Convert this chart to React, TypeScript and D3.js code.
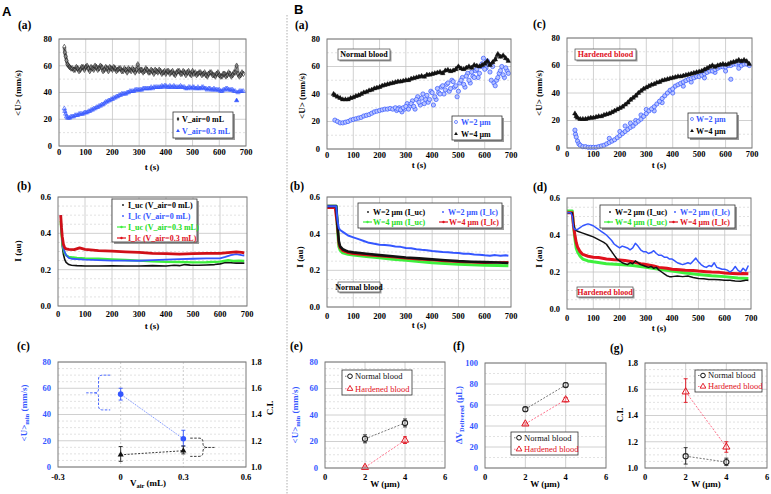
import React from "react";
import * as d3 from "d3";

type Pt = [number, number];
type EP = [number, number, number, number]; // x, y, lo, hi

const SERIF = "'Liberation Serif', 'Times New Roman', serif";
const SANS = "'Liberation Sans', Arial, sans-serif";
const BLUE = "#3456ff";
const RED = "#e0101c";
const GREEN = "#3ef03e";
const BLACK = "#111111";

// ---------------- Tick labels ----------------
const timeTicks = [0, 100, 200, 300, 400, 500, 600, 700];
const timeGrid = [100, 200, 300, 400, 500, 600];
const uTicks = [0, 20, 40, 60, 80];
const uMinor = [10, 30, 50, 70];
const iTicks = [0, 0.2, 0.4, 0.6];
const iMinor = [0.05, 0.1, 0.15, 0.25, 0.3, 0.35, 0.45, 0.5, 0.55];
const vairTicks = [-0.3, 0, 0.3, 0.6];
const ciTicks = [1.0, 1.2, 1.4, 1.6, 1.8];
const wTicks = [0, 2, 4, 6];
const dvTicks = [0, 20, 40, 60, 80, 100];

// ---------------- A(a) ----------------
const aaV0: Pt[] = [[20,74],[22,70],[25,67],[28,64],[32,61],[36,60],[40,59],[45,58],[50,58],[55,57],[60,57],[65,59],[70,58],[75,56],[80,57],[85,59],[90,59],[95,57],[100,59],[105,60],[110,58],[115,56],[120,59],[125,58],[130,57],[135,60],[140,59],[145,57],[150,58],[155,60],[160,59],[165,56],[170,57],[175,59],[180,58],[185,56],[190,59],[195,58],[200,57],[205,59],[210,58],[215,56],[220,57],[225,58],[230,58],[235,56],[240,56],[245,58],[250,57],[255,55],[260,58],[265,57],[270,56],[275,58],[280,57],[285,55],[290,57],[295,61],[300,56],[305,57],[310,57],[315,55],[320,56],[325,58],[330,57],[335,55],[340,55],[345,57],[350,56],[355,54],[360,57],[365,56],[370,55],[375,57],[380,56],[385,54],[390,55],[395,56],[400,54],[405,56],[410,56],[415,54],[420,55],[425,56],[430,54],[435,53],[440,55],[445,56],[450,56],[455,54],[460,54],[465,56],[470,55],[475,53],[480,55],[485,56],[490,54],[495,53],[500,56],[505,54],[510,55],[515,53],[520,54],[525,55],[530,55],[535,53],[540,54],[545,55],[550,53],[555,52],[560,54],[565,55],[570,55],[575,53],[580,53],[585,52],[590,54],[595,55],[600,53],[605,52],[610,52],[615,54],[620,54],[625,52],[630,53],[635,55],[640,54],[645,52],[650,53],[655,55],[660,55],[665,60],[670,54],[675,52],[680,53],[685,55],[690,54]];
const aaV03: Pt[] = [[20,28],[22,26],[25,24],[28,22],[32,21],[36,21],[40,21],[45,22],[50,22],[55,22],[60,23],[65,23],[70,23],[75,24],[80,24],[85,24],[90,24],[95,25],[100,25],[105,25],[110,26],[115,26],[120,27],[125,27],[130,28],[135,28],[140,29],[145,29],[150,30],[155,30],[160,31],[165,31],[170,32],[175,33],[180,33],[185,34],[190,34],[195,35],[200,35],[205,36],[210,36],[215,37],[220,37],[225,38],[230,38],[235,39],[240,39],[245,39],[250,39],[255,40],[260,40],[265,41],[270,41],[275,41],[280,41],[285,42],[290,42],[295,42],[300,42],[305,42],[310,42],[315,43],[320,43],[325,43],[330,43],[335,43],[340,43],[345,44],[350,43],[355,44],[360,44],[365,44],[370,44],[375,44],[380,44],[385,45],[390,44],[395,45],[400,45],[405,44],[410,44],[415,45],[420,44],[425,44],[430,45],[435,44],[440,44],[445,44],[450,44],[455,45],[460,44],[465,44],[470,44],[475,43],[480,43],[485,44],[490,44],[495,43],[500,44],[505,44],[510,43],[515,43],[520,44],[525,43],[530,43],[535,44],[540,44],[545,43],[550,43],[555,42],[560,43],[565,43],[570,42],[575,42],[580,43],[585,42],[590,42],[595,42],[600,42],[605,41],[610,41],[615,42],[620,42],[625,43],[630,43],[635,42],[640,42],[645,42],[650,42],[655,41],[660,41],[670,40],[675,41],[680,41],[685,41],[690,41]];
const aaV03Outlier: Pt[] = [[665, 34]];

// ---------------- A(b) ----------------
const abUc0: Pt[] = [[10,0.48],[13,0.4],[16,0.33],[20,0.285],[25,0.255],[30,0.24],[40,0.228],[50,0.224],[70,0.222],[100,0.22],[150,0.22],[200,0.221],[250,0.22],[300,0.22],[350,0.222],[400,0.22],[430,0.224],[450,0.222],[470,0.228],[490,0.225],[520,0.224],[550,0.226],[580,0.228],[600,0.232],[620,0.24],[640,0.238],[660,0.236],[690,0.236]];
const abLc0: Pt[] = [[10,0.5],[13,0.42],[16,0.36],[20,0.32],[25,0.295],[30,0.28],[40,0.265],[50,0.26],[70,0.258],[100,0.255],[150,0.252],[200,0.25],[250,0.25],[300,0.249],[350,0.252],[400,0.255],[450,0.258],[500,0.26],[550,0.262],[600,0.262],[620,0.27],[640,0.28],[660,0.285],[680,0.28],[690,0.278]];
const abUc03: Pt[] = [[10,0.47],[13,0.4],[16,0.35],[20,0.315],[25,0.29],[30,0.28],[40,0.27],[50,0.268],[70,0.265],[100,0.262],[150,0.26],[200,0.256],[250,0.253],[300,0.25],[350,0.246],[400,0.243],[450,0.242],[500,0.24],[550,0.241],[600,0.244],[630,0.252],[650,0.248],[670,0.25],[690,0.248]];
const abLc03: Pt[] = [[10,0.5],[13,0.43],[16,0.38],[20,0.34],[25,0.32],[30,0.315],[40,0.312],[60,0.31],[80,0.32],[100,0.312],[150,0.305],[200,0.302],[250,0.298],[300,0.295],[350,0.29],[400,0.288],[450,0.285],[500,0.288],[550,0.29],[600,0.29],[640,0.295],[660,0.298],[680,0.295],[690,0.292]];

// ---------------- A(c) ----------------
const acU: EP[] = [[0, 55.5, 51, 60], [0.3, 21.5, 16, 28]];
const acCI: EP[] = [[0, 1.093, 1.043, 1.156], [0.3, 1.124, 1.1, 1.16]];

// ---------------- B(a) normal blood ----------------
const baW4: Pt[] = [[25,40],[30,39],[40,38],[50,37],[60,36],[70,36],[80,36],[90,37],[100,37.5],[110,38.5],[120,39],[130,40],[140,41],[150,41.5],[160,42.5],[170,43],[180,44],[190,44.5],[200,45],[210,46],[220,46.5],[230,47],[240,47.5],[250,48],[260,48.5],[270,49],[280,49],[290,49.5],[300,50],[310,50],[320,51],[330,51.5],[340,52],[350,52.5],[360,53],[370,52.5],[380,54],[390,54],[400,54.5],[410,55],[420,55.5],[430,56],[440,55],[450,57],[460,57.5],[470,56.5],[480,57],[490,58],[500,60],[510,58.5],[520,58],[530,59],[540,60],[550,59],[560,61],[570,60.5],[580,60],[590,61],[600,62],[610,64],[620,61],[630,63],[640,65],[650,69],[660,67],[670,68],[680,66],[690,64]];
const baW2: Pt[] = [[30,21],[40,20],[50,19],[60,19],[70,19.5],[80,20],[90,21],[100,21.5],[110,22],[120,22.5],[130,23],[140,24],[150,24.5],[160,25],[170,26],[180,27],[190,27.5],[200,28],[210,28.5],[220,29],[230,29],[240,29.5],[250,29],[260,30],[270,29],[280,28.5],[290,30],[300,31],[310,29],[320,33],[330,31],[340,36],[350,34],[360,37],[370,33],[380,39],[390,36],[400,41],[405,32],[410,38],[420,44],[430,40],[440,46],[450,43],[460,48],[470,44],[480,49],[490,46],[500,42],[510,50],[520,47],[530,53],[540,50],[550,56],[560,52],[570,58],[580,55],[590,62],[600,58],[610,64],[620,56],[630,60],[640,46],[650,52],[660,57],[670,54],[680,59],[690,55]];
const baW2Early: Pt[] = [[30,21],[40,20],[50,19],[60,19],[70,19.5],[80,20],[90,21],[100,21.5],[110,22],[120,22.5],[130,23],[140,24],[150,24.5],[160,25],[170,26],[180,27],[190,27.5],[200,28],[210,28.5],[220,29],[230,29],[240,29.5],[250,29.5],[260,30],[270,29.5],[280,29.5],[290,30],[300,31]];
const baW2Spread: Pt[] = [[265,28],[275,30],[285,27],[295,29],[305,33],[315,31],[325,35],[335,29],[345,38],[355,32],[365,40],[375,36],[385,34],[395,42],[415,36],[425,41],[435,45],[445,40],[455,47],[465,42],[475,50],[485,45],[495,38],[505,48],[515,52],[525,45],[535,55],[545,48],[555,53],[565,57],[575,52],[585,60],[595,66],[605,59],[615,62],[625,50],[635,48],[645,50],[655,55],[665,60],[675,52],[685,57]];

// ---------------- B(c) hardened blood ----------------
const bcW4: Pt[] = [[30,25],[35,23],[40,22],[50,21],[60,21],[70,21],[80,21.5],[90,22],[100,22],[110,22.5],[120,23],[130,23],[140,24],[150,24.5],[160,25],[170,26],[180,27],[190,28],[200,29],[210,30],[220,31.5],[230,33],[240,35],[250,36.5],[260,38],[270,40],[280,41.5],[290,43],[300,44],[310,45],[320,46],[330,46.5],[340,47.5],[350,48],[360,49],[370,49.5],[380,50],[390,50.5],[400,51],[410,51.5],[420,52],[430,52],[440,52.5],[450,53],[460,53.5],[470,54],[480,54.5],[490,55],[500,55.5],[510,56],[520,57],[530,58],[540,59],[550,60],[560,59],[570,60],[580,60.5],[590,61],[600,60.5],[610,61],[620,62],[630,62.5],[640,63],[650,64],[660,63],[670,64],[680,63],[690,61]];
const bcW2: Pt[] = [[30,13],[35,8],[40,5],[45,3],[50,2],[60,1],[70,1],[80,0.5],[90,0.5],[100,0.5],[110,0.5],[120,1],[130,1.5],[140,2],[150,3],[160,4],[170,5],[180,6],[190,7.5],[200,9],[210,10.5],[220,12],[230,13.5],[240,15],[250,16],[260,18],[270,19.5],[280,21],[290,23],[300,25],[310,27],[320,28.5],[330,30],[340,32],[350,34],[360,36],[370,38],[380,40],[390,42],[400,43],[410,45],[420,46],[430,47],[440,48],[450,49],[460,50],[470,50.5],[480,51],[490,52],[500,52],[510,53],[520,54],[530,55],[540,56],[550,56],[560,57],[570,58],[580,59],[590,59],[600,59],[610,60],[620,60],[630,61],[640,61],[650,62],[660,60],[670,61],[680,61],[690,60]];
const bcW2Spread: Pt[] = [[32,10],[160,7],[200,12],[220,16],[240,18],[260,20],[280,24],[300,28],[330,27],[360,33],[400,40],[440,45],[470,48],[520,51],[560,55],[600,56],[620,50],[650,58]];

// ---------------- B(b) normal blood ----------------
const bbUcW2: Pt[] = [[0,0.55],[35,0.55],[40,0.45],[45,0.36],[50,0.33],[60,0.315],[70,0.308],[80,0.303],[100,0.298],[150,0.29],[200,0.283],[250,0.277],[300,0.27],[350,0.265],[400,0.26],[450,0.255],[500,0.25],[550,0.247],[600,0.245],[650,0.243],[690,0.24]];
const bbLcW2: Pt[] = [[0,0.55],[35,0.55],[40,0.47],[45,0.43],[50,0.42],[60,0.41],[70,0.4],[80,0.39],[100,0.38],[120,0.37],[140,0.36],[160,0.35],[180,0.345],[200,0.34],[220,0.338],[240,0.335],[260,0.33],[280,0.328],[300,0.322],[320,0.32],[340,0.315],[360,0.312],[380,0.31],[400,0.305],[420,0.303],[440,0.3],[460,0.298],[480,0.296],[500,0.295],[520,0.29],[540,0.29],[560,0.287],[580,0.285],[600,0.282],[620,0.28],[640,0.283],[660,0.279],[680,0.282],[690,0.28]];
const bbUcW4: Pt[] = [[0,0.55],[35,0.55],[40,0.42],[45,0.33],[50,0.31],[60,0.295],[80,0.287],[100,0.283],[150,0.275],[200,0.268],[250,0.26],[300,0.255],[350,0.248],[400,0.242],[450,0.237],[500,0.233],[550,0.23],[600,0.228],[650,0.226],[690,0.225]];
const bbLcW4: Pt[] = [[0,0.54],[30,0.54],[38,0.45],[45,0.34],[50,0.32],[60,0.305],[80,0.295],[100,0.29],[150,0.283],[200,0.278],[250,0.272],[300,0.265],[350,0.26],[400,0.255],[450,0.25],[500,0.246],[550,0.243],[600,0.24],[650,0.243],[690,0.245]];

// ---------------- B(d) hardened blood ----------------
const bdUcW2: Pt[] = [[0,0.52],[20,0.52],[25,0.46],[30,0.43],[40,0.42],[60,0.41],[80,0.4],[100,0.39],[120,0.375],[140,0.36],[150,0.35],[160,0.33],[170,0.31],[180,0.29],[190,0.27],[200,0.26],[210,0.25],[220,0.245],[230,0.24],[240,0.25],[250,0.245],[260,0.26],[270,0.25],[280,0.24],[290,0.235],[300,0.23],[310,0.225],[320,0.23],[330,0.22],[340,0.225],[350,0.21],[360,0.2],[370,0.19],[380,0.18],[390,0.175],[400,0.175],[420,0.178],[440,0.175],[460,0.178],[480,0.17],[500,0.165],[520,0.163],[540,0.16],[560,0.16],[580,0.158],[600,0.155],[620,0.155],[640,0.152],[660,0.15],[680,0.155],[690,0.155]];
const bdLcW2: Pt[] = [[0,0.52],[15,0.52],[20,0.5],[25,0.44],[30,0.43],[40,0.43],[50,0.44],[60,0.45],[70,0.455],[80,0.46],[90,0.455],[100,0.45],[110,0.44],[120,0.43],[130,0.42],[140,0.41],[150,0.4],[160,0.385],[170,0.37],[180,0.35],[190,0.34],[200,0.33],[210,0.34],[220,0.335],[230,0.33],[240,0.32],[250,0.33],[260,0.355],[270,0.34],[280,0.32],[290,0.31],[300,0.31],[310,0.3],[320,0.305],[330,0.315],[340,0.3],[350,0.29],[360,0.29],[370,0.28],[380,0.28],[390,0.27],[400,0.27],[410,0.26],[420,0.25],[430,0.245],[440,0.24],[450,0.245],[460,0.25],[470,0.245],[480,0.26],[490,0.275],[500,0.255],[510,0.24],[520,0.23],[530,0.225],[540,0.235],[550,0.23],[560,0.25],[570,0.225],[580,0.22],[590,0.215],[600,0.215],[610,0.21],[620,0.2],[630,0.21],[640,0.23],[650,0.21],[660,0.2],[670,0.22],[680,0.205],[690,0.235]];
const bdUcW4: Pt[] = [[0,0.53],[20,0.53],[25,0.45],[30,0.38],[35,0.33],[40,0.31],[50,0.285],[60,0.27],[80,0.26],[100,0.255],[150,0.245],[200,0.24],[250,0.235],[300,0.225],[350,0.215],[400,0.205],[450,0.195],[500,0.187],[550,0.18],[600,0.175],[650,0.168],[690,0.165]];
const bdLcW4: Pt[] = [[0,0.52],[20,0.52],[25,0.45],[30,0.4],[35,0.36],[40,0.335],[50,0.31],[60,0.295],[80,0.285],[100,0.28],[120,0.278],[150,0.27],[180,0.266],[200,0.265],[220,0.262],[250,0.255],[280,0.245],[300,0.24],[330,0.232],[350,0.225],[380,0.22],[400,0.215],[430,0.212],[450,0.21],[480,0.208],[500,0.205],[530,0.202],[550,0.2],[580,0.198],[600,0.195],[630,0.192],[650,0.19],[670,0.192],[690,0.19]];

// ---------------- B(e), B(f), B(g) ----------------
const beNormal: EP[] = [[2, 22, 19, 25], [4, 34, 31, 37]];
const beHard: EP[] = [[2, 0.5, 0, 1.5], [4, 21, 18.5, 23.5]];
const bfNormal: EP[] = [[2, 56, 54, 58], [4, 79, 77, 81]];
const bfHard: EP[] = [[2, 42, 41, 43], [4, 65, 63, 67]];
const bgNormal: EP[] = [[2, 1.09, 1.03, 1.155], [4, 1.045, 1.02, 1.075]];
const bgHard: EP[] = [[2, 1.58, 1.5, 1.68], [4, 1.16, 1.12, 1.2]];

// ---------------- helpers ----------------
type Box = { l: number; r: number; t: number; b: number };
type Sc = d3.ScaleLinear<number, number>;

function Frame(props: {
  box: Box; xd: [number, number]; yd: [number, number];
  xTicks: number[]; yTicks: number[]; yMinor?: number[]; xGrid?: number[]; xGridDash?: boolean;
  xFmt?: (v: number) => string; yFmt?: (v: number) => string; yColor?: string; xLabDy?: number;
  children?: (x: Sc, y: Sc) => React.ReactNode;
}) {
  const { box, xd, yd, xTicks, yTicks, yMinor = [], xGrid = [], xGridDash = false,
    xFmt = (v) => String(v), yFmt = (v) => String(v), yColor = "#000", xLabDy = 11, children } = props;
  const x = d3.scaleLinear().domain(xd).range([box.l, box.r]);
  const y = d3.scaleLinear().domain(yd).range([box.b, box.t]);
  return (
    <g>
      <rect x={box.l} y={box.t} width={box.r - box.l} height={box.b - box.t} fill="#fff" />
      {yMinor.map((v) => (
        <line key={"m" + v} x1={box.l} x2={box.r} y1={y(v)} y2={y(v)} stroke="#cfcfcf" strokeWidth={0.6} strokeDasharray="2,2" />
      ))}
      {yTicks.map((v) => (
        <line key={"g" + v} x1={box.l} x2={box.r} y1={y(v)} y2={y(v)} stroke="#c4c4c4" strokeWidth={0.8} />
      ))}
      {xGrid.map((v) => (
        <line key={"x" + v} x1={x(v)} x2={x(v)} y1={box.t} y2={box.b} stroke="#c4c4c4" strokeWidth={0.8} strokeDasharray={xGridDash ? "2,2" : undefined} />
      ))}
      {children ? children(x, y) : null}
      <rect x={box.l} y={box.t} width={box.r - box.l} height={box.b - box.t} fill="none" stroke="#7a7a7a" strokeWidth={1} />
      {xTicks.map((v) => (
        <text key={"tx" + v} x={x(v)} y={box.b + xLabDy} textAnchor="middle" fontSize={8.5} fontWeight="bold">{xFmt(v)}</text>
      ))}
      {yTicks.map((v) => (
        <text key={"ty" + v} x={box.l - 7} y={y(v)} dy="0.35em" textAnchor="end" fontSize={8.5} fontWeight="bold" fill={yColor}>{yFmt(v)}</text>
      ))}
    </g>
  );
}

function Markers(props: { data: Pt[]; x: Sc; y: Sc; type: d3.SymbolType; size: number; stroke: string; fill: string; sw?: number }) {
  const { data, x, y, type, size, stroke, fill, sw = 0.7 } = props;
  const d = d3.symbol().type(type).size(size)() || "";
  return (
    <g>
      {data.map((p, i) => (
        <path key={i} d={d} transform={`translate(${x(p[0])},${y(p[1])})`} fill={fill} stroke={stroke} strokeWidth={sw} />
      ))}
    </g>
  );
}

function Line(props: { data: Pt[]; x: Sc; y: Sc; color: string; w: number; opacity?: number; dash?: string; curve?: d3.CurveFactory }) {
  const { data, x, y, color, w, opacity = 1, dash, curve = d3.curveLinear } = props;
  const g = d3.line<Pt>().x((p) => x(p[0])).y((p) => y(p[1])).curve(curve);
  return <path d={g(data) || ""} fill="none" stroke={color} strokeWidth={w} opacity={opacity} strokeDasharray={dash} strokeLinejoin="round" />;
}

function ErrBars(props: { data: EP[]; x: Sc; y: Sc; color: string }) {
  const { data, x, y, color } = props;
  return (
    <g>
      {data.map((p, i) => (
        <g key={i} stroke={color} strokeWidth={0.9}>
          <line x1={x(p[0])} x2={x(p[0])} y1={y(p[2])} y2={y(p[3])} />
          <line x1={x(p[0]) - 2} x2={x(p[0]) + 2} y1={y(p[2])} y2={y(p[2])} />
          <line x1={x(p[0]) - 2} x2={x(p[0]) + 2} y1={y(p[3])} y2={y(p[3])} />
        </g>
      ))}
    </g>
  );
}

function LegendBox(props: { x: number; y: number; w: number; h: number }) {
  const { x, y, w, h } = props;
  return (
    <g>
      <rect x={x + 2} y={y + 2} width={w} height={h} fill="#9a9a9a" />
      <rect x={x} y={y} width={w} height={h} fill="#fff" stroke="#333" strokeWidth={0.8} />
    </g>
  );
}

function TagBox(props: { x: number; y: number; w: number; h: number; text: string; color: string }) {
  const { x, y, w, h, text, color } = props;
  return (
    <g>
      <rect x={x + 1.5} y={y + 1.5} width={w} height={h} fill="#a0a0a0" />
      <rect x={x} y={y} width={w} height={h} fill="#fff" stroke="#444" strokeWidth={0.7} />
      <text x={x + w / 2} y={y + h / 2} dy="0.35em" textAnchor="middle" fontSize={8} fontWeight="bold" fill={color}>{text}</text>
    </g>
  );
}

function VLabel(props: { x: number; y: number; color?: string; children: React.ReactNode; size?: number }) {
  const { x, y, color = "#000", children, size = 9 } = props;
  return (
    <text transform={`translate(${x},${y}) rotate(-90)`} textAnchor="middle" fontSize={size} fontWeight="bold" fill={color}>{children}</text>
  );
}

function PanelTag(props: { x: number; y: number; t: string }) {
  return <text x={props.x} y={props.y} fontSize={11.5} fontWeight="bold">{props.t}</text>;
}

const triSym = d3.symbolTriangle;
const circSym = d3.symbolCircle;
const diaSym = d3.symbolDiamond;

function symPath(type: d3.SymbolType, size: number) {
  return d3.symbol().type(type).size(size)() || "";
}

function Brace(props: { x: Sc; y: Sc; xa: number; xb: number; xt: number; yTop: number; yMid: number; yBot: number; color: string }) {
  const { x, y, xa, xb, xt, yTop, yMid, yBot, color } = props;
  const A = x(xa), B = x(xb), T = x(xt), yt = y(yTop), ym = y(yMid), yb = y(yBot);
  const s = B > A ? 1 : -1;
  const r = 4;
  const d = `M${A},${yt} L${B - s * r},${yt} Q${B},${yt} ${B},${yt + r} L${B},${ym - r} Q${B},${ym} ${B + s * r},${ym} L${T},${ym} M${B + s * r},${ym} Q${B},${ym} ${B},${ym + r} L${B},${yb - r} Q${B},${yb} ${B - s * r},${yb} L${A},${yb}`;
  return <path d={d} fill="none" stroke={color} strokeWidth={0.9} strokeDasharray="2.5,1.5" />;
}

function SmallLegend(props: { x: number; y: number; w: number; h: number; rows: { text: string; color: string; kind: "circ" | "tri" }[]; lineColor: string[] }) {
  const { x, y, w, h, rows, lineColor } = props;
  return (
    <g>
      <rect x={x} y={y} width={w} height={h} fill="#fff" stroke="#333" strokeWidth={0.8} />
      {rows.map((r, i) => {
        const cy = y + h * (i + 0.5) / rows.length;
        return (
          <g key={i}>
            <line x1={x + 3} x2={x + 11} y1={cy} y2={cy} stroke={lineColor[i]} strokeWidth={0.8} strokeDasharray="1.5,1" />
            {r.kind === "circ" ? (
              <circle cx={x + 8} cy={cy} r={2.3} fill="#fff" stroke={r.color} strokeWidth={1} />
            ) : (
              <path d={symPath(triSym, 14)} transform={`translate(${x + 8},${cy})`} fill="#fff" stroke={r.color} strokeWidth={0.9} />
            )}
            <text x={x + 13} y={cy} dy="0.35em" fontSize={8.5} fill={r.color}>{r.text}</text>
          </g>
        );
      })}
    </g>
  );
}

function Pair(props: { x: Sc; y: Sc; normal: EP[]; hard: EP[] }) {
  const { x, y, normal, hard } = props;
  const nPts: Pt[] = normal.map((p) => [p[0], p[1]]);
  const hPts: Pt[] = hard.map((p) => [p[0], p[1]]);
  return (
    <g>
      <Line data={nPts} x={x} y={y} color="#555" w={0.8} dash="2,1.5" />
      <Line data={hPts} x={x} y={y} color="#ff5070" w={0.8} dash="2,1.5" />
      <ErrBars data={normal} x={x} y={y} color="#222" />
      <ErrBars data={hard} x={x} y={y} color={RED} />
      {nPts.map((p, i) => <circle key={"n" + i} cx={x(p[0])} cy={y(p[1])} r={2.6} fill="#fff" fillOpacity={0.4} stroke="#222" strokeWidth={1.1} />)}
      {hPts.map((p, i) => <path key={"h" + i} d={symPath(triSym, 22)} transform={`translate(${x(p[0])},${y(p[1])})`} fill="#fff" fillOpacity={0.4} stroke={RED} strokeWidth={1} />)}
    </g>
  );
}

const fmt1 = (v: number) => v.toFixed(1);
const fmtV = (v: number) => (v === 0 ? "0" : String(v));

export default function App() {
  const bA = { l: 59, r: 246, t: 39, b: 146 };
  const bB = { l: 58, r: 247, t: 197, b: 306 };
  const bC = { l: 58, r: 246, t: 362, b: 467 };
  const bBa = { l: 327, r: 511, t: 39, b: 149 };
  const bBc = { l: 567, r: 752, t: 38, b: 148 };
  const bBb = { l: 327, r: 511, t: 197, b: 307 };
  const bBd = { l: 567, r: 751, t: 198, b: 309 };
  const bBe = { l: 325, r: 445, t: 362, b: 468 };
  const bBf = { l: 485, r: 606, t: 363, b: 468 };
  const bBg = { l: 645, r: 767, t: 363, b: 468 };

  return (
    <svg width={771} height={494} style={{ position: "absolute", left: 0, top: 0, background: "#fff" }} fontFamily={SERIF}>
      <rect width={771} height={494} fill="#fff" />
      <text x={2} y={16} fontFamily={SANS} fontWeight="bold" fontSize={13}>A</text>
      <text x={294} y={14} fontFamily={SANS} fontWeight="bold" fontSize={13}>B</text>
      <line x1={287} x2={287} y1={15} y2={494} stroke="#9a9a9a" strokeWidth={0.8} strokeDasharray="1.5,1.5" />

      <PanelTag x={18} y={29} t="(a)" />
      <PanelTag x={17} y={190} t="(b)" />
      <PanelTag x={17} y={350} t="(c)" />
      <PanelTag x={295} y={29} t="(a)" />
      <PanelTag x={533} y={28} t="(c)" />
      <PanelTag x={290} y={190} t="(b)" />
      <PanelTag x={533} y={191} t="(d)" />
      <PanelTag x={290} y={350} t="(e)" />
      <PanelTag x={453} y={350} t="(f)" />
      <PanelTag x={610} y={352} t="(g)" />

      {/* ---------- A(a) ---------- */}
      <Frame box={bA} xd={[0, 700]} yd={[0, 80]} xTicks={timeTicks} yTicks={uTicks} yMinor={uMinor} xGrid={timeGrid} xLabDy={9}>
        {(x, y) => (
          <g>
            <Line data={aaV0} x={x} y={y} color="#333" w={3.5} opacity={0.55} curve={d3.curveMonotoneX} />
            <Markers data={aaV0} x={x} y={y} type={diaSym} size={9} stroke="#222" fill="none" sw={0.6} />
            <Line data={aaV03} x={x} y={y} color={BLUE} w={2.5} opacity={0.6} curve={d3.curveMonotoneX} />
            <Markers data={aaV03} x={x} y={y} type={triSym} size={8} stroke={BLUE} fill="none" sw={0.6} />
            <Markers data={aaV03Outlier} x={x} y={y} type={triSym} size={8} stroke={BLUE} fill={BLUE} sw={0.6} />
            <LegendBox x={173} y={112} w={60} h={26} />
            <path d={symPath(diaSym, 6)} transform="translate(178,119)" fill="#333" />
            <text x={182} y={119} dy="0.35em" fontSize={8} fontWeight="bold">V_air=0 mL</text>
            <path d={symPath(triSym, 6)} transform="translate(178,131)" fill={BLUE} />
            <text x={182} y={131} dy="0.35em" fontSize={8} fontWeight="bold" fill={BLUE}>V_air=0.3 mL</text>
          </g>
        )}
      </Frame>
      <VLabel x={21} y={93}>{"<U> (mm/s)"}</VLabel>
      <text x={152} y={170} textAnchor="middle" fontSize={9} fontWeight="bold">t (s)</text>

      {/* ---------- A(b) ---------- */}
      <Frame box={bB} xd={[0, 700]} yd={[0, 0.6]} xTicks={timeTicks} yTicks={iTicks} yMinor={iMinor} xGrid={timeGrid} yFmt={fmt1} xLabDy={11}>
        {(x, y) => (
          <g>
            <Line data={abUc0} x={x} y={y} color={BLACK} w={1.6} />
            <Line data={abUc03} x={x} y={y} color={GREEN} w={2.4} />
            <Line data={abLc0} x={x} y={y} color={BLUE} w={1.8} />
            <Line data={abLc03} x={x} y={y} color="#d01018" w={2.8} />
            <LegendBox x={112} y={199} w={85} h={43} />
            <circle cx={123} cy={205} r={0.9} fill={BLACK} />
            <text x={128} y={205} dy="0.35em" fontSize={8} fontWeight="bold">I_uc (V_air=0 mL)</text>
            <circle cx={123} cy={216} r={0.9} fill={BLUE} />
            <text x={128} y={216} dy="0.35em" fontSize={8} fontWeight="bold" fill={BLUE}>I_lc (V_air=0 mL)</text>
            <line x1={117} x2={126} y1={227} y2={227} stroke={GREEN} strokeWidth={1.2} />
            <circle cx={121.5} cy={227} r={1.2} fill={GREEN} />
            <text x={128} y={227} dy="0.35em" fontSize={8} fontWeight="bold" fill="#22dd22">I_uc (V_air=0.3 mL)</text>
            <line x1={117} x2={126} y1={238} y2={238} stroke={RED} strokeWidth={1.2} />
            <circle cx={121.5} cy={238} r={1.2} fill={RED} />
            <text x={128} y={238} dy="0.35em" fontSize={8} fontWeight="bold" fill={RED}>I_lc (V_air=0.3 mL)</text>
          </g>
        )}
      </Frame>
      <VLabel x={21} y={251}>I (au)</VLabel>
      <text x={152} y={329} textAnchor="middle" fontSize={9} fontWeight="bold">t (s)</text>

      {/* ---------- A(c) ---------- */}
      <Frame box={bC} xd={[-0.3, 0.6]} yd={[0, 80]} xTicks={vairTicks} yTicks={uTicks} yMinor={[5, 10, 15, 25, 30, 35, 45, 50, 55, 65, 70, 75]} xGrid={[0, 0.3]} xGridDash yColor={BLUE} xFmt={fmtV} xLabDy={13}>
        {(x, y) => {
          const yR = d3.scaleLinear().domain([1.0, 1.8]).range([bC.b, bC.t]);
          const uPts: Pt[] = acU.map((p) => [p[0], p[1]]);
          const cPts: Pt[] = acCI.map((p) => [p[0], p[1]]);
          return (
            <g>
              <Line data={uPts} x={x} y={y} color="#6d88ff" w={0.9} dash="1.2,1" />
              <Line data={cPts} x={x} y={yR} color="#222" w={0.9} dash="2,1.5" />
              <ErrBars data={acU} x={x} y={y} color={BLUE} />
              <ErrBars data={acCI} x={x} y={yR} color="#222" />
              {uPts.map((p, i) => <circle key={i} cx={x(p[0])} cy={y(p[1])} r={2.8} fill={BLUE} />)}
              {cPts.map((p, i) => <path key={i} d={symPath(triSym, 16)} transform={`translate(${x(p[0])},${yR(p[1])})`} fill="#111" />)}
              <Brace x={x} y={y} xa={-0.05} xb={-0.106} xt={-0.165} yTop={70} yMid={56.5} yBot={43.5} color={BLUE} />
              <Brace x={x} y={y} xa={0.333} xb={0.394} xt={0.449} yTop={22} yMid={14.9} yBot={8.1} color="#222" />
              {ciTicks.map((v) => (
                <text key={v} x={bC.r + 5} y={yR(v)} dy="0.35em" fontSize={8.5} fontWeight="bold">{fmt1(v)}</text>
              ))}
            </g>
          );
        }}
      </Frame>
      <VLabel x={27} y={413} color={BLUE}>
        {"<U>"}<tspan fontSize={6.5} dy={2}>min</tspan><tspan dy={-2}>{" (mm/s)"}</tspan>
      </VLabel>
      <VLabel x={273} y={408}>C.I.</VLabel>
      <text x={148} y={486} textAnchor="middle" fontSize={9} fontWeight="bold">
        V<tspan fontSize={6.5} dy={2}>air</tspan><tspan dy={-2}>{" (mL)"}</tspan>
      </text>

      {/* ---------- B(a) ---------- */}
      <Frame box={bBa} xd={[0, 700]} yd={[0, 80]} xTicks={timeTicks} yTicks={uTicks} yMinor={uMinor} xGrid={timeGrid} xLabDy={9}>
        {(x, y) => (
          <g>
            <Line data={baW2Early} x={x} y={y} color={BLUE} w={3} opacity={0.5} curve={d3.curveMonotoneX} />
            <Markers data={baW2Spread} x={x} y={y} type={circSym} size={14} stroke={BLUE} fill="#b8c4ff" sw={0.7} />
            <Markers data={baW2} x={x} y={y} type={circSym} size={14} stroke={BLUE} fill="#b8c4ff" sw={0.7} />
            <Line data={baW4} x={x} y={y} color="#111" w={3} opacity={0.8} curve={d3.curveMonotoneX} />
            <Markers data={baW4} x={x} y={y} type={triSym} size={10} stroke="#111" fill="#111" sw={0.4} />
            <TagBox x={338} y={49} w={52} h={11} text="Normal blood" color="#000" />
            <LegendBox x={452} y={116} w={50} h={24} />
            <circle cx={456} cy={122} r={1.5} fill="none" stroke={BLUE} strokeWidth={0.7} />
            <text x={461} y={122} dy="0.35em" fontSize={8} fontWeight="bold" fill={BLUE}>W=2 μm</text>
            <path d={symPath(triSym, 6)} transform="translate(456,134)" fill="#111" />
            <text x={461} y={134} dy="0.35em" fontSize={8} fontWeight="bold">W=4 μm</text>
          </g>
        )}
      </Frame>
      <VLabel x={305} y={96}>{"<U> (mm/s)"}</VLabel>
      <text x={419} y={168} textAnchor="middle" fontSize={9} fontWeight="bold">t (s)</text>

      {/* ---------- B(c) ---------- */}
      <Frame box={bBc} xd={[0, 700]} yd={[0, 80]} xTicks={timeTicks} yTicks={uTicks} yMinor={uMinor} xGrid={timeGrid} xLabDy={9}>
        {(x, y) => (
          <g>
            <Line data={bcW2} x={x} y={y} color={BLUE} w={3} opacity={0.45} curve={d3.curveMonotoneX} />
            <Markers data={bcW2Spread} x={x} y={y} type={circSym} size={14} stroke={BLUE} fill="#b8c4ff" sw={0.7} />
            <Markers data={bcW2} x={x} y={y} type={circSym} size={14} stroke={BLUE} fill="#b8c4ff" sw={0.7} />
            <Line data={bcW4} x={x} y={y} color="#111" w={3} opacity={0.8} curve={d3.curveMonotoneX} />
            <Markers data={bcW4} x={x} y={y} type={triSym} size={10} stroke="#111" fill="#111" sw={0.4} />
            <TagBox x={575} y={49} w={61} h={11} text="Hardened blood" color={RED} />
            <LegendBox x={688} y={113} w={49} h={25} />
            <circle cx={692} cy={119} r={1.5} fill="none" stroke={BLUE} strokeWidth={0.7} />
            <text x={696} y={119} dy="0.35em" fontSize={8} fontWeight="bold" fill={BLUE}>W=2 μm</text>
            <path d={symPath(triSym, 6)} transform="translate(692,131)" fill="#111" />
            <text x={696} y={131} dy="0.35em" fontSize={8} fontWeight="bold">W=4 μm</text>
          </g>
        )}
      </Frame>
      <VLabel x={542} y={93}>{"<U> (mm/s)"}</VLabel>
      <text x={659} y={168} textAnchor="middle" fontSize={9} fontWeight="bold">t (s)</text>

      {/* ---------- B(b) ---------- */}
      <Frame box={bBb} xd={[0, 700]} yd={[0, 0.6]} xTicks={timeTicks} yTicks={iTicks} yMinor={iMinor} xGrid={timeGrid} yFmt={fmt1} xLabDy={12}>
        {(x, y) => (
          <g>
            <Line data={bbUcW4} x={x} y={y} color={GREEN} w={3} />
            <Line data={bbLcW4} x={x} y={y} color={RED} w={2.2} />
            <Line data={bbUcW2} x={x} y={y} color={BLACK} w={2.6} />
            <Line data={bbLcW2} x={x} y={y} color={BLUE} w={2} />
            <TagBox x={338} y={282} w={42} h={10} text="Normal blood" color="#000" />
            <LegendBox x={358} y={203} w={144} h={25} />
            <circle cx={368} cy={212} r={0.9} fill={BLACK} />
            <text x={373} y={212} dy="0.35em" fontSize={8} fontWeight="bold">W=2 μm (I_uc)</text>
            <circle cx={443} cy={212} r={0.9} fill={BLUE} />
            <text x={448} y={212} dy="0.35em" fontSize={8} fontWeight="bold" fill={BLUE}>W=2 μm (I_lc)</text>
            <line x1={363} x2={372} y1={222} y2={222} stroke={GREEN} strokeWidth={1.2} />
            <circle cx={367.5} cy={222} r={1.2} fill={GREEN} />
            <text x={373} y={222} dy="0.35em" fontSize={8} fontWeight="bold" fill="#22dd22">W=4 μm (I_uc)</text>
            <line x1={439} x2={448} y1={222} y2={222} stroke={RED} strokeWidth={1.2} />
            <circle cx={443.5} cy={222} r={1.2} fill={RED} />
            <text x={449} y={222} dy="0.35em" fontSize={8} fontWeight="bold" fill={RED}>W=4 μm (I_lc)</text>
          </g>
        )}
      </Frame>
      <VLabel x={303} y={257}>I (au)</VLabel>
      <text x={419} y={328} textAnchor="middle" fontSize={9} fontWeight="bold">t (s)</text>

      {/* ---------- B(d) ---------- */}
      <Frame box={bBd} xd={[0, 700]} yd={[0, 0.6]} xTicks={timeTicks} yTicks={iTicks} yMinor={iMinor} xGrid={timeGrid} yFmt={fmt1} xLabDy={12}>
        {(x, y) => (
          <g>
            <Line data={bdUcW4} x={x} y={y} color={GREEN} w={3} />
            <Line data={bdLcW4} x={x} y={y} color={RED} w={3} />
            <Line data={bdUcW2} x={x} y={y} color={BLACK} w={1.5} />
            <Line data={bdLcW2} x={x} y={y} color={BLUE} w={1.5} />
            <TagBox x={577} y={287} w={56} h={10} text="Hardened blood" color={RED} />
            <LegendBox x={600} y={205} w={135} h={23} />
            <circle cx={610} cy={212} r={0.9} fill={BLACK} />
            <text x={615} y={212} dy="0.35em" fontSize={8} fontWeight="bold">W=2 μm (I_uc)</text>
            <circle cx={675} cy={212} r={0.9} fill={BLUE} />
            <text x={680} y={212} dy="0.35em" fontSize={8} fontWeight="bold" fill={BLUE}>W=2 μm (I_lc)</text>
            <line x1={604} x2={613} y1={222} y2={222} stroke={GREEN} strokeWidth={1.2} />
            <circle cx={608.5} cy={222} r={1.2} fill={GREEN} />
            <text x={615} y={222} dy="0.35em" fontSize={8} fontWeight="bold" fill="#22dd22">W=4 μm (I_uc)</text>
            <line x1={669} x2={678} y1={222} y2={222} stroke={RED} strokeWidth={1.2} />
            <circle cx={673.5} cy={222} r={1.2} fill={RED} />
            <text x={680} y={222} dy="0.35em" fontSize={8} fontWeight="bold" fill={RED}>W=4 μm (I_lc)</text>
          </g>
        )}
      </Frame>
      <VLabel x={542} y={257}>I (au)</VLabel>
      <text x={659} y={331} textAnchor="middle" fontSize={9} fontWeight="bold">t (s)</text>

      {/* ---------- B(e) ---------- */}
      <Frame box={bBe} xd={[0, 6]} yd={[0, 80]} xTicks={wTicks} yTicks={uTicks} yMinor={[5, 10, 15, 25, 30, 35, 45, 50, 55, 65, 70, 75]} xGrid={[2, 4]} yColor={BLUE} xLabDy={12}>
        {(x, y) => (
          <g>
            <Pair x={x} y={y} normal={beNormal} hard={beHard} />
            <SmallLegend x={342} y={370} w={70} h={25} lineColor={["#555", "#ff5070"]}
              rows={[{ text: "Normal blood", color: "#111", kind: "circ" }, { text: "Hardened blood", color: RED, kind: "tri" }]} />
          </g>
        )}
      </Frame>
      <VLabel x={298} y={415} color={BLUE}>
        {"<U>"}<tspan fontSize={6.5} dy={2}>min</tspan><tspan dy={-2}>{" (mm/s)"}</tspan>
      </VLabel>
      <text x={385} y={487} textAnchor="middle" fontSize={9} fontWeight="bold">W (μm)</text>

      {/* ---------- B(f) ---------- */}
      <Frame box={bBf} xd={[0, 6]} yd={[0, 100]} xTicks={wTicks} yTicks={dvTicks} yMinor={[10, 30, 50, 70, 90]} xGrid={[2, 4]} yColor={BLUE} xLabDy={12}>
        {(x, y) => (
          <g>
            <Pair x={x} y={y} normal={bfNormal} hard={bfHard} />
            <SmallLegend x={511} y={432} w={67} h={23} lineColor={["#555", "#ff5070"]}
              rows={[{ text: "Normal blood", color: "#111", kind: "circ" }, { text: "Hardened blood", color: RED, kind: "tri" }]} />
          </g>
        )}
      </Frame>
      <VLabel x={462} y={415} color={BLUE}>
        {"ΔV"}<tspan fontSize={6.5} dy={2}>Delivered</tspan><tspan dy={-2}>{" (μL)"}</tspan>
      </VLabel>
      <text x={545} y={487} textAnchor="middle" fontSize={9} fontWeight="bold">W (μm)</text>

      {/* ---------- B(g) ---------- */}
      <Frame box={bBg} xd={[0, 6]} yd={[1.0, 1.8]} xTicks={wTicks} yTicks={ciTicks} yMinor={[1.05, 1.1, 1.15, 1.25, 1.3, 1.35, 1.45, 1.5, 1.55, 1.65, 1.7, 1.75]} xGrid={[2, 4]} yFmt={fmt1} xLabDy={12}>
        {(x, y) => (
          <g>
            <Pair x={x} y={y} normal={bgNormal} hard={bgHard} />
            <SmallLegend x={695} y={370} w={67} h={22} lineColor={["#555", "#ff5070"]}
              rows={[{ text: "Normal blood", color: "#111", kind: "circ" }, { text: "Hardened blood", color: RED, kind: "tri" }]} />
          </g>
        )}
      </Frame>
      <VLabel x={623} y={415}>C.I.</VLabel>
      <text x={706} y={487} textAnchor="middle" fontSize={9} fontWeight="bold">W (μm)</text>
    </svg>
  );
}
